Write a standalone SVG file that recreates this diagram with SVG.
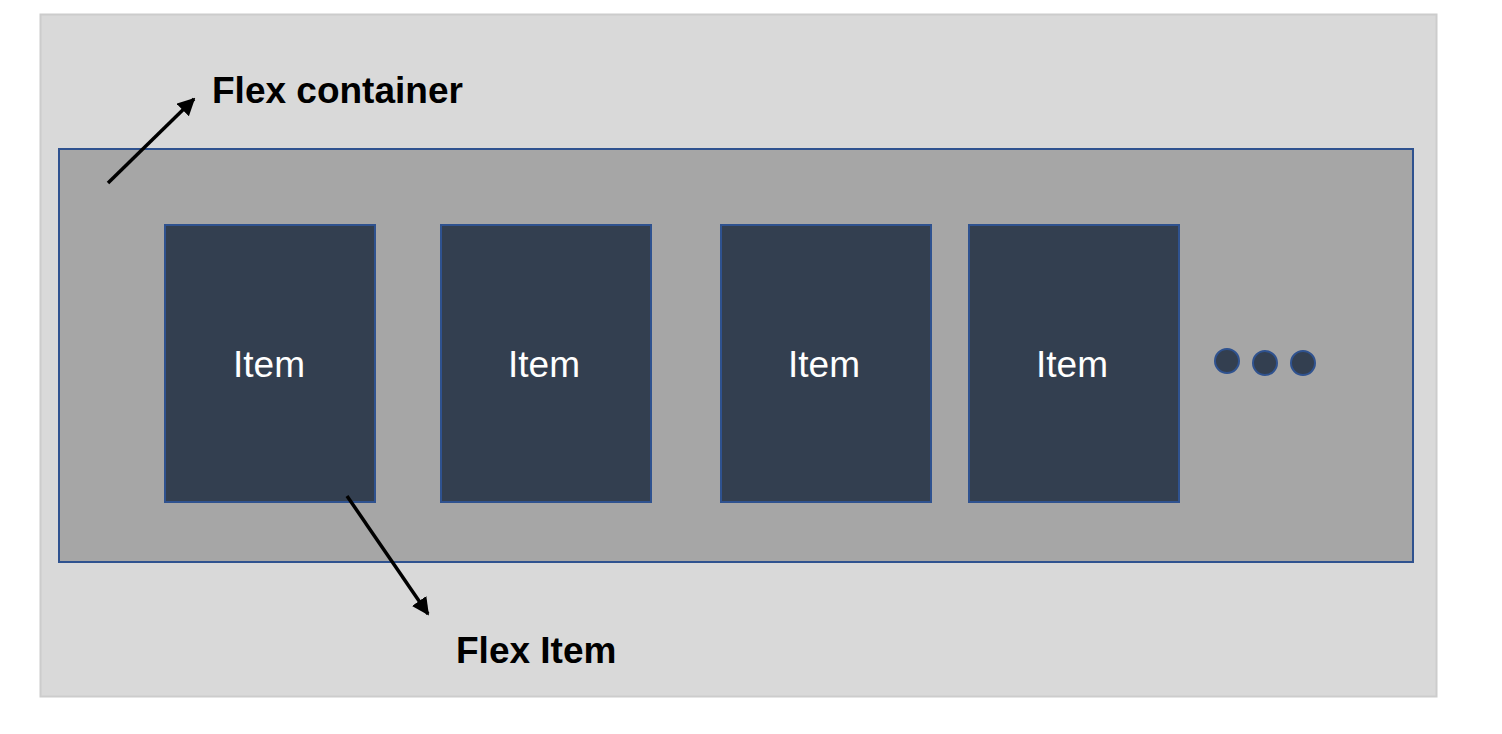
<svg xmlns="http://www.w3.org/2000/svg" width="1502" height="734" viewBox="0 0 1502 734">
  <style>
    .item rect { fill: #333f50; stroke: #2f528f; stroke-width: 2; }
    .item text { fill: #ffffff; font-family: "Liberation Sans", Arial, sans-serif; font-size: 37px; text-anchor: middle; }
    .label { fill: #000000; font-family: "Liberation Sans", Arial, sans-serif; font-size: 37px; font-weight: bold; }
    .dot { fill: #333f50; stroke: #2f528f; stroke-width: 2; }
    .conn { stroke: #000000; stroke-width: 3.5; fill: none; marker-end: url(#arrow); }
  </style>
  <defs>
    <marker id="arrow" viewBox="0 0 10 10" refX="9" refY="5" markerWidth="5" markerHeight="5" orient="auto" markerUnits="strokeWidth">
      <path d="M0,0 L10,5 L0,10 z" fill="#000000"/>
    </marker>
  </defs>
  <rect width="1502" height="734" fill="#ffffff"/>
  <g id="outer">
    <rect x="40.5" y="14.5" width="1396" height="682" fill="#d9d9d9" stroke="#cccccc" stroke-width="2"/>
    <text class="label" x="212" y="103">Flex container</text>
  </g>
  <g id="container">
    <rect x="59" y="149" width="1354" height="413" fill="#a6a6a6" stroke="#2f528f" stroke-width="2"/>
  </g>
  <g id="item1" class="item">
    <rect x="165" y="225" width="210" height="277"/>
    <text x="269" y="377">Item</text>
  </g>
  <g id="item2" class="item">
    <rect x="441" y="225" width="210" height="277"/>
    <text x="544" y="377">Item</text>
  </g>
  <g id="item3" class="item">
    <rect x="721" y="225" width="210" height="277"/>
    <text x="824" y="377">Item</text>
  </g>
  <g id="item4" class="item">
    <rect x="969" y="225" width="210" height="277"/>
    <text x="1072" y="377">Item</text>
  </g>
  <g id="more">
    <circle class="dot" cx="1227" cy="361" r="12"/>
    <circle class="dot" cx="1265" cy="363" r="12"/>
    <circle class="dot" cx="1303" cy="363" r="12"/>
  </g>
  <g id="flexitem-label">
    <text class="label" x="456" y="663">Flex Item</text>
  </g>
  <g id="connectors">
    <line class="conn" x1="108" y1="183" x2="194" y2="99"/>
    <line class="conn" x1="347" y1="496" x2="428" y2="614"/>
  </g>
</svg>
